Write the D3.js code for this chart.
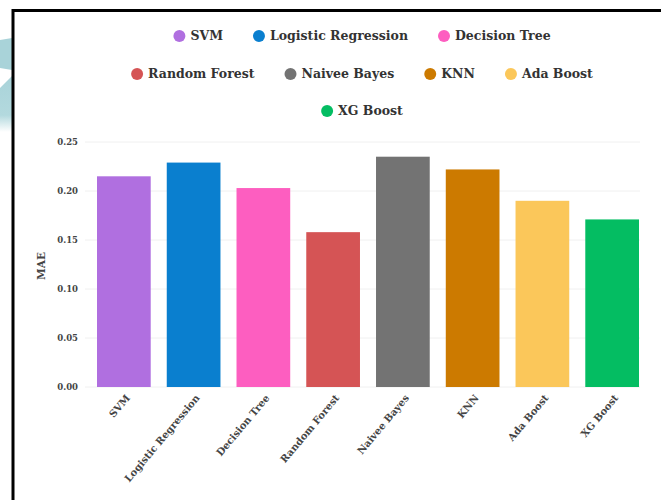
<!DOCTYPE html>
<html>
<head>
<meta charset="utf-8">
<script src="https://cdn.jsdelivr.net/npm/d3@7/dist/d3.min.js"></script>
<style>
  html, body { margin: 0; padding: 0; background: #ffffff; }
  svg { display: block; }
  text { font-family: "DejaVu Serif", serif; font-weight: bold; }
</style>
</head>
<body>
<svg id="chart" width="661" height="500"></svg>
<script>
// Model names, their MAE scores and bar colours
const models = ["SVM", "Logistic Regression", "Decision Tree", "Random Forest",
                "Naivee Bayes", "KNN", "Ada Boost", "XG Boost"];
const maeValues = [0.215, 0.229, 0.203, 0.158, 0.235, 0.222, 0.190, 0.171];
const barColors = ["#b06fe0", "#0a7fcf", "#fd5ec0", "#d55455",
                   "#737373", "#cc7a00", "#fbc75a", "#04bd62"];
const yTicks = [0.00, 0.05, 0.10, 0.15, 0.20, 0.25];
const legendRows = [[0, 1, 2], [3, 4, 5, 6], [7]];

const svg = d3.select("#chart");

// decorative teal shapes at the far left edge
svg.append("path").attr("d", "M0,40 L12,38 L12,70 L0,68 Z").attr("fill", "#a9d3d9");
const grad = svg.append("defs").append("linearGradient")
  .attr("id", "fade").attr("x1", 0).attr("y1", 0).attr("x2", 0).attr("y2", 1);
grad.append("stop").attr("offset", "0%").attr("stop-color", "#a9d3d9");
grad.append("stop").attr("offset", "70%").attr("stop-color", "#b3d9de");
grad.append("stop").attr("offset", "100%").attr("stop-color", "#ffffff");
svg.append("path").attr("d", "M0,88 L12,76 L12,132 L0,132 Z").attr("fill", "url(#fade)");

// frame lines
svg.append("path")
  .attr("d", "M13,500 L13,10.5 L661,10.5")
  .attr("fill", "none").attr("stroke", "#000").attr("stroke-width", 3);

const plotLeft = 85, plotRight = 640;
const y = d3.scaleLinear().domain([0, 0.25]).range([387, 142]);
const x = d3.scaleBand().domain(models).range([97, 639]).paddingInner(0.23).paddingOuter(0);

// horizontal grid
svg.append("g").selectAll("line").data(yTicks).join("line")
  .attr("x1", plotLeft).attr("x2", plotRight)
  .attr("y1", d => y(d)).attr("y2", d => y(d))
  .attr("stroke", "#f0f0f0").attr("stroke-width", 1);

// y axis labels
const yAxis = d3.axisLeft(y).tickValues(yTicks).tickFormat(d3.format(".2f")).tickSize(0).tickPadding(0);
const gy = svg.append("g").attr("transform", "translate(78,0)").call(yAxis);
gy.select(".domain").remove();
gy.selectAll("text").attr("font-size", 8.5).attr("fill", "#444")
  .style("font-family", "DejaVu Serif").style("font-weight", "bold");

svg.append("text")
  .attr("transform", "translate(45,266) rotate(-90)")
  .attr("text-anchor", "middle")
  .attr("font-size", 10.5).attr("fill", "#444")
  .text("MAE");

// bars
svg.append("g").selectAll("rect").data(models).join("rect")
  .attr("x", d => x(d))
  .attr("y", (d, i) => y(maeValues[i]))
  .attr("width", x.bandwidth())
  .attr("height", (d, i) => y(0) - y(maeValues[i]))
  .attr("fill", (d, i) => barColors[i]);

// x axis labels rotated
const xAxis = d3.axisBottom(x).tickSize(0).tickPadding(0);
const gx = svg.append("g").attr("transform", "translate(0,396)").call(xAxis);
gx.select(".domain").remove();
gx.selectAll("text")
  .attr("font-size", 10).attr("fill", "#444")
  .style("font-family", "DejaVu Serif").style("font-weight", "bold")
  .attr("text-anchor", "end")
  .attr("y", 0)
  .attr("dy", "0.35em")
  .attr("transform", "translate(4,0) rotate(-50)");

// legend rows
const rowY = [36, 74, 111];
const legendCenter = 362, itemGap = 30, dotR = 6, dotText = 5;
legendRows.forEach((row, r) => {
  const g = svg.append("g");
  const items = row.map(i => {
    const it = g.append("g");
    it.append("circle").attr("r", dotR).attr("cx", dotR).attr("cy", 0).attr("fill", barColors[i]);
    const t = it.append("text").attr("x", dotR * 2 + dotText).attr("y", 0).attr("dy", "0.35em")
      .attr("font-size", 12.5).attr("fill", "#333").text(models[i]);
    return { it, w: dotR * 2 + dotText + t.node().getComputedTextLength() };
  });
  const total = d3.sum(items, d => d.w) + itemGap * (items.length - 1);
  let cx = legendCenter - total / 2;
  items.forEach(d => {
    d.it.attr("transform", `translate(${cx},${rowY[r]})`);
    cx += d.w + itemGap;
  });
});
</script>
</body>
</html>
